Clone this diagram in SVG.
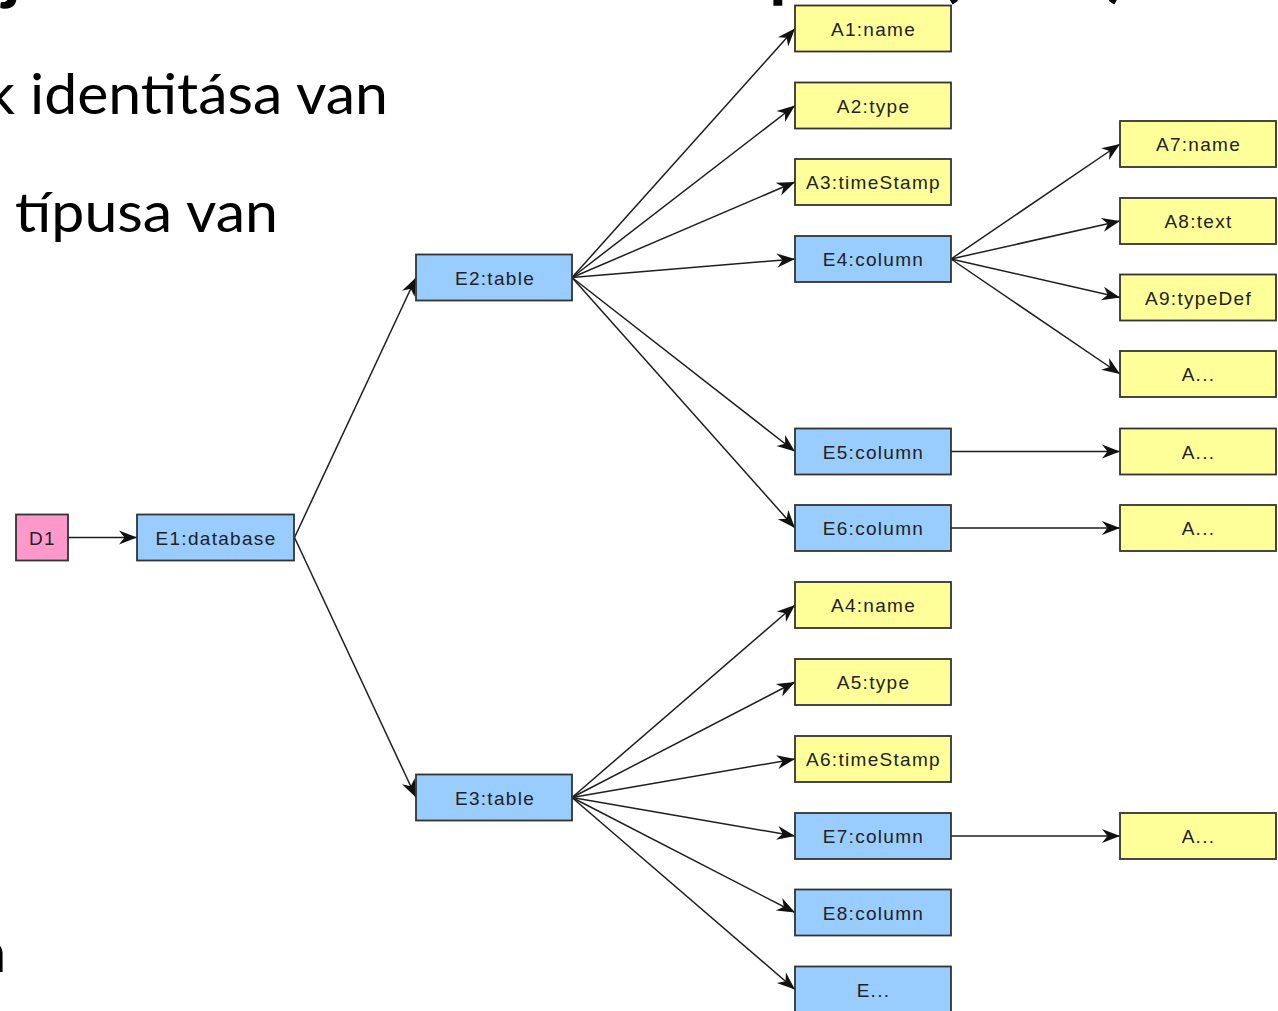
<svg xmlns="http://www.w3.org/2000/svg" width="1278" height="1011" viewBox="0 0 1278 1011">
<style>
.bg{fill:#ffffff}
.slide{font-family:Lato,"Open Sans","Liberation Sans",sans-serif;fill:#000000}
.title{font-family:Lato,"Liberation Sans",sans-serif;font-weight:700;font-size:72px;fill:#000000}
.box{stroke:#333333;stroke-width:1.8}
.attr{fill:#FFFF99}
.ent{fill:#99CCFF}
.doc{fill:#FF99CC}
.lbl{font-family:"Liberation Sans",Arial,sans-serif;font-size:19px;letter-spacing:1.3px;fill:#222222;text-anchor:middle}
.edge{stroke:#1e1e1e;stroke-width:1.5;fill:none;marker-end:url(#arr)}
</style>
<defs>
<marker id="arr" markerUnits="userSpaceOnUse" viewBox="-19 -8 20 16" refX="0" refY="0" markerWidth="20" markerHeight="16" orient="auto">
<path d="M0,0 L-18,-7 L-12.5,0 L-18,7 Z" fill="#111111"/>
</marker>
</defs>
<rect class="bg" x="0" y="0" width="1278" height="1011"/>

<g id="slide-text">
<text class="title" x="3" y="-5">j</text>
<text class="title" x="769" y="-7">p</text>
<text class="title" x="940" y="-7">(</text>
<text class="title" x="1107" y="-7">)</text>
<text class="slide" x="-15" y="114" font-size="56" textLength="403" lengthAdjust="spacingAndGlyphs">k identitása van</text>
<text class="slide" x="15" y="232" font-size="56" textLength="263" lengthAdjust="spacingAndGlyphs">típusa van</text>
<text class="slide" x="-25" y="972" font-size="56">n</text>
</g>

<g id="connectors">
<line class="edge" x1="68" y1="537.5" x2="137" y2="537.5"/>
<line class="edge" x1="294.5" y1="537.5" x2="416" y2="277.5"/>
<line class="edge" x1="294.5" y1="537.5" x2="416" y2="797.5"/>
<line class="edge" x1="572" y1="277.5" x2="795" y2="28.5"/>
<line class="edge" x1="572" y1="277.5" x2="795" y2="105.5"/>
<line class="edge" x1="572" y1="277.5" x2="795" y2="182"/>
<line class="edge" x1="572" y1="277.5" x2="795" y2="259"/>
<line class="edge" x1="572" y1="277.5" x2="795" y2="451.5"/>
<line class="edge" x1="572" y1="277.5" x2="795" y2="528"/>
<line class="edge" x1="951" y1="259" x2="1120" y2="144"/>
<line class="edge" x1="951" y1="259" x2="1120" y2="221"/>
<line class="edge" x1="951" y1="259" x2="1120" y2="297.5"/>
<line class="edge" x1="951" y1="259" x2="1120" y2="374"/>
<line class="edge" x1="951" y1="451.5" x2="1120" y2="451.5"/>
<line class="edge" x1="951" y1="528" x2="1120" y2="528"/>
<line class="edge" x1="572" y1="797.5" x2="795" y2="605"/>
<line class="edge" x1="572" y1="797.5" x2="795" y2="682"/>
<line class="edge" x1="572" y1="797.5" x2="795" y2="759"/>
<line class="edge" x1="572" y1="797.5" x2="795" y2="836"/>
<line class="edge" x1="572" y1="797.5" x2="795" y2="912.5"/>
<line class="edge" x1="572" y1="797.5" x2="795" y2="989.5"/>
<line class="edge" x1="951" y1="836" x2="1120" y2="836"/>
</g>

<g id="D1"><rect class="box doc" x="16" y="514.5" width="52" height="46"/><text class="lbl" x="42.5" y="544.5">D1</text></g>
<g id="E1"><rect class="box ent" x="137" y="514.5" width="157" height="46"/><text class="lbl" x="216" y="544.5">E1:database</text></g>
<g id="E2"><rect class="box ent" x="416" y="254.5" width="156" height="46"/><text class="lbl" x="495" y="284.5">E2:table</text></g>
<g id="E3"><rect class="box ent" x="416" y="774.5" width="156" height="46"/><text class="lbl" x="495" y="804.5">E3:table</text></g>

<g id="A1"><rect class="box attr" x="795" y="5.5" width="156" height="46"/><text class="lbl" x="873.5" y="35.5">A1:name</text></g>
<g id="A2"><rect class="box attr" x="795" y="82.5" width="156" height="46"/><text class="lbl" x="873.5" y="112.5">A2:type</text></g>
<g id="A3"><rect class="box attr" x="795" y="159" width="156" height="46"/><text class="lbl" x="873.5" y="189">A3:timeStamp</text></g>
<g id="E4"><rect class="box ent" x="795" y="236" width="156" height="46"/><text class="lbl" x="873.5" y="266">E4:column</text></g>
<g id="E5"><rect class="box ent" x="795" y="428.5" width="156" height="46"/><text class="lbl" x="873.5" y="458.5">E5:column</text></g>
<g id="E6"><rect class="box ent" x="795" y="505" width="156" height="46"/><text class="lbl" x="873.5" y="535">E6:column</text></g>
<g id="A4"><rect class="box attr" x="795" y="582" width="156" height="46"/><text class="lbl" x="873.5" y="612">A4:name</text></g>
<g id="A5"><rect class="box attr" x="795" y="659" width="156" height="46"/><text class="lbl" x="873.5" y="689">A5:type</text></g>
<g id="A6"><rect class="box attr" x="795" y="736" width="156" height="46"/><text class="lbl" x="873.5" y="766">A6:timeStamp</text></g>
<g id="E7"><rect class="box ent" x="795" y="813" width="156" height="46"/><text class="lbl" x="873.5" y="843">E7:column</text></g>
<g id="E8"><rect class="box ent" x="795" y="889.5" width="156" height="46"/><text class="lbl" x="873.5" y="919.5">E8:column</text></g>
<g id="E-more"><rect class="box ent" x="795" y="966.5" width="156" height="46"/><text class="lbl" x="873.5" y="996.5">E...</text></g>

<g id="A7"><rect class="box attr" x="1120" y="121" width="156" height="46"/><text class="lbl" x="1198.5" y="151">A7:name</text></g>
<g id="A8"><rect class="box attr" x="1120" y="198" width="156" height="46"/><text class="lbl" x="1198.5" y="228">A8:text</text></g>
<g id="A9"><rect class="box attr" x="1120" y="274.5" width="156" height="46"/><text class="lbl" x="1198.5" y="304.5">A9:typeDef</text></g>
<g id="A-more-E4"><rect class="box attr" x="1120" y="351" width="156" height="46"/><text class="lbl" x="1198.5" y="381">A...</text></g>
<g id="A-more-E5"><rect class="box attr" x="1120" y="428.5" width="156" height="46"/><text class="lbl" x="1198.5" y="458.5">A...</text></g>
<g id="A-more-E6"><rect class="box attr" x="1120" y="505" width="156" height="46"/><text class="lbl" x="1198.5" y="535">A...</text></g>
<g id="A-more-E7"><rect class="box attr" x="1120" y="813" width="156" height="46"/><text class="lbl" x="1198.5" y="843">A...</text></g>
</svg>
